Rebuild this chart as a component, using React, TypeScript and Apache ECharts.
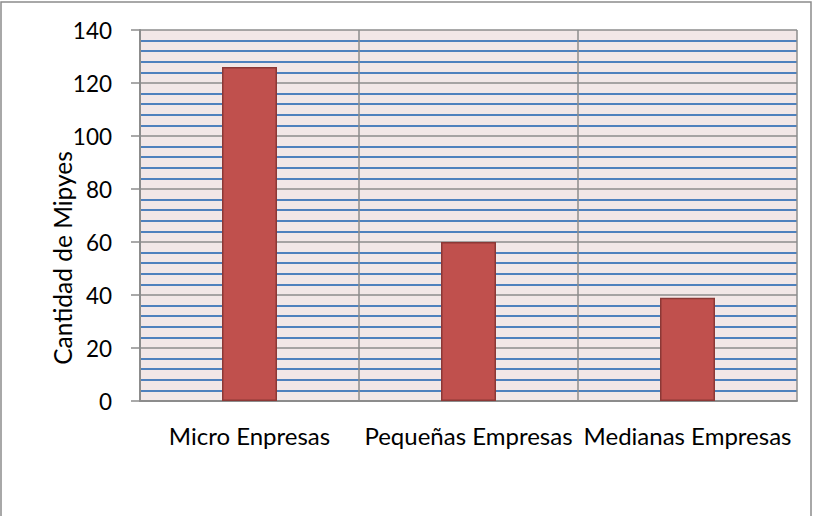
import React, { useEffect, useRef } from "react";
import * as echarts from "echarts";

const categories = ["Micro Enpresas", "Pequeñas Empresas", "Medianas Empresas"];
const values = [126, 60, 39];
const axisTitle = "Cantidad de Mipyes";

export default function App() {
  const ref = useRef<HTMLDivElement>(null);
  useEffect(() => {
    const chart = echarts.init(ref.current!, null, { renderer: "svg" });
    const font = "Lato, 'Open Sans', sans-serif";
    chart.setOption({
      animation: false,
      backgroundColor: "#ffffff",
      grid: {
        left: 140,
        right: 16,
        top: 30,
        bottom: 115,
        show: true,
        backgroundColor: "#f2e7e7",
        borderWidth: 0,
      },
      graphic: [
        {
          type: "rect",
          shape: { x: 1, y: 2, width: 810, height: 530 },
          style: { fill: "none", stroke: "#8c8c8c", lineWidth: 1.5 },
          silent: true,
        },
        {
          type: "text",
          x: 62,
          y: 258,
          rotation: Math.PI / 2,
          style: {
            text: axisTitle,
            fontFamily: font,
            fontSize: 24.5,
            fill: "#000",
            align: "center",
            verticalAlign: "middle",
          },
        },
      ],
      xAxis: {
        type: "category",
        data: categories,
        axisLine: { show: true, lineStyle: { color: "#8c8c8c", width: 2 } },
        axisTick: { show: false },
        splitLine: { show: true, lineStyle: { color: "#8c8c8c", width: 1.5 } },
        axisLabel: {
          color: "#000",
          fontFamily: font,
          fontSize: 24,
          margin: 22,
          interval: 0,
        },
      },
      yAxis: {
        type: "value",
        min: 0,
        max: 140,
        interval: 20,
        axisLine: { show: true, lineStyle: { color: "#8c8c8c", width: 2 } },
        axisTick: { show: true, length: 9, lineStyle: { color: "#8c8c8c", width: 1.5 } },
        axisLabel: {
          color: "#000",
          fontFamily: font,
          fontSize: 22.5,
          margin: 28,
        },
        splitLine: { show: true, lineStyle: { color: "#8c8c8c", width: 1.5 } },
        minorTick: { show: false, splitNumber: 5 },
        minorSplitLine: { show: true, lineStyle: { color: "#4f81bd", width: 1.8 } },
      },
      series: [
        {
          type: "bar",
          data: values,
          barWidth: 55,
          itemStyle: { color: "#c0504d", borderColor: "#8c3836", borderWidth: 1.5 },
        },
      ],
    });
    return () => chart.dispose();
  }, []);
  return (
    <div
      ref={ref}
      style={{ width: 813, height: 516, position: "fixed", left: 0, top: 0 }}
    />
  );
}
